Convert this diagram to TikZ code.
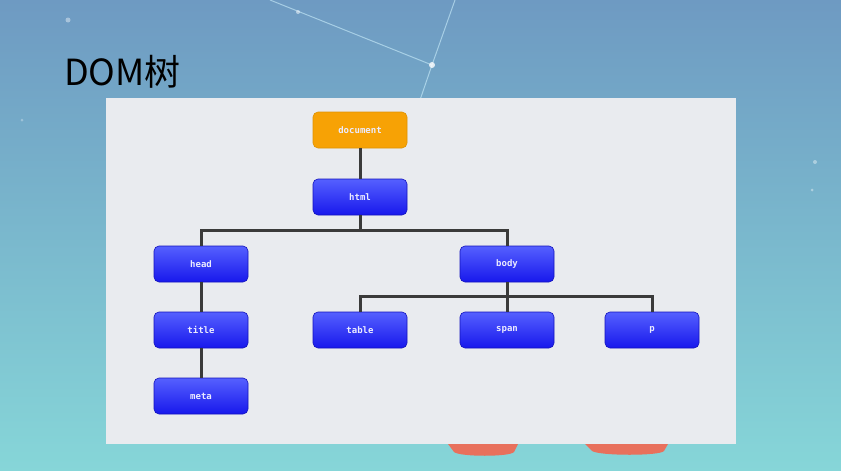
\documentclass[tikz,border=0pt]{standalone}
\usepackage{fontspec}
\newfontfamily\cjk{Noto Sans CJK SC}
\setmonofont{DejaVu Sans Mono}
\usetikzlibrary{shadings}
\definecolor{skytop}{HTML}{6E9AC2}
\definecolor{skybot}{HTML}{86D6D8}
\definecolor{panel}{HTML}{E9EBEF}
\definecolor{orangebox}{HTML}{F7A205}
\definecolor{bluetop}{HTML}{5560FF}
\definecolor{bluebot}{HTML}{1818EC}
\definecolor{linegray}{HTML}{3A3A3A}
\definecolor{salmon}{HTML}{E8705C}
\tikzset{
  treebox/.style={rounded corners=5pt, minimum width=94pt, minimum height=36pt, inner sep=0pt,
    font=\ttfamily\bfseries\fontsize{9pt}{9pt}\selectfont, text=white!92!blue},
  bluebox/.style={treebox, top color=bluetop, bottom color=bluebot, draw=bluebot!80!black, line width=0.6pt},
  docbox/.style={treebox, fill=orangebox, draw=orangebox!90!black, line width=0.6pt},
  link/.style={draw=linegray, line width=3pt},
  starline/.style={draw=white!80!cyan, opacity=0.6, line width=1pt}
}
\begin{document}
\begin{tikzpicture}[x=1pt,y=-1pt]
\useasboundingbox (0,0) rectangle (841,471);
\shade[top color=skytop, bottom color=skybot] (0,0) rectangle (841,471);
% constellation
\coordinate (s0) at (432,65);
\draw[starline] (270,0) -- (s0) -- (455,0);
\draw[starline] (s0) -- (420,100);
\fill[white, opacity=0.8] (s0) circle (3);
\fill[white, opacity=0.5] (298,12) circle (2);
\fill[white, opacity=0.4] (68,20) circle (2.5);
\fill[white, opacity=0.4] (815,162) circle (2);
\fill[white, opacity=0.4] (812,190) circle (1.5);
\fill[white, opacity=0.3] (22,120) circle (1.5);
% salmon shapes
\fill[salmon] (448,444) -- (518,444) -- (514,452) .. controls (510,457) and (460,457) .. (454,452) -- cycle;
\fill[salmon] (585,444) -- (668,444) -- (664,451) .. controls (660,456) and (600,456) .. (592,451) -- cycle;
% title
\node[anchor=west, inner sep=0pt, font=\cjk\fontsize{36pt}{36pt}\selectfont, text=black] (ttl) at (64,72) {DOM树};
% panel
\fill[panel] (106,98) rectangle (736,444);
% nodes
\node[docbox] (doc) at (360,130) {document};
\node[bluebox] (html) at (360,197) {html};
\node[bluebox] (head) at (201,264) {head};
\node[bluebox] (body) at (507,264) {body};
\node[bluebox] (title) at (201,330) {title};
\node[bluebox] (meta) at (201,396) {meta};
\node[bluebox] (table) at (360,330) {table};
\node[bluebox] (span) at (507,330) {span};
\node[bluebox] (p) at (652,330) {p};
% connectors
\draw[link] (doc) -- (html);
\draw[link] (html.south) -- ++(0,15) -| (head.north);
\draw[link] (html.south) -- ++(0,15) -| (body.north);
\draw[link] (head) -- (title);
\draw[link] (title) -- (meta);
\draw[link] (body.south) -- ++(0,14) -| (table.north);
\draw[link] (body.south) -- ++(0,14) -| (p.north);
\draw[link] (body) -- (span);
\end{tikzpicture}
\end{document}
